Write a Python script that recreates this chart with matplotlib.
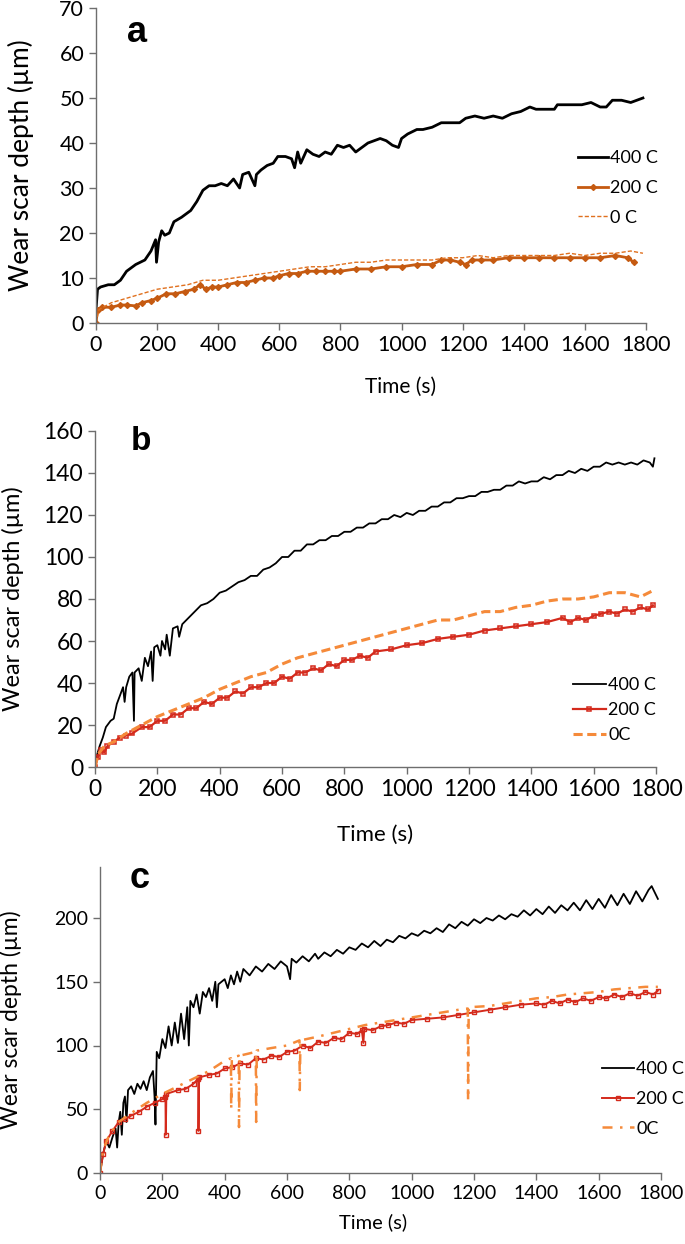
import matplotlib
matplotlib.use("Agg")
import matplotlib.pyplot as plt

plt.rcParams['font.family'] = ['Lato', 'DejaVu Sans']

# ---------------- panel a ----------------
a_400_t = [0, 5, 15, 40, 60, 80, 100, 130, 160, 180, 195, 198, 205, 215, 225, 240, 255, 280, 310, 330,
           350, 370, 390, 410, 430, 450, 470, 480, 500, 520, 525, 540, 560, 580, 595, 620, 640, 650, 660, 670,
           690, 710, 730, 750, 770, 790, 810, 830, 850, 870, 890, 910, 930, 950, 970, 990, 1000, 1020, 1050, 1070,
           1100, 1130, 1160, 1190, 1210, 1240, 1270, 1300, 1330, 1360, 1390, 1420, 1440, 1470, 1500, 1510, 1530, 1560, 1590, 1620,
           1650, 1670, 1690, 1720, 1750, 1770, 1790]
a_400_y = [3, 7.5, 8, 8.5, 8.5, 9.5, 11.5, 13, 14, 16, 18.5, 13.5, 18, 20.5, 19.5, 20, 22.5, 23.5, 25, 27,
           29.5, 30.5, 30.5, 31, 30.5, 32, 30, 33, 33.5, 30.5, 33, 34, 35, 35.5, 37, 37, 36.5, 34.5, 38, 35.5,
           38.5, 37.5, 37, 38, 37.5, 39.5, 39, 39.5, 38, 39, 40, 40.5, 41, 40.5, 39.5, 39, 41, 42, 43, 43,
           43.5, 44.5, 44.5, 44.5, 45.5, 46, 45.5, 46, 45.5, 46.5, 47, 48, 47.5, 47.5, 47.5, 48.5, 48.5, 48.5, 48.5, 49,
           48, 48, 49.5, 49.5, 49, 49.5, 50]

a_200_t = [0, 5, 20, 50, 80, 100, 130, 150, 180, 200, 230, 260, 290, 320, 340, 360, 380, 400, 430, 460,
           490, 520, 550, 580, 600, 630, 660, 690, 720, 750, 780, 800, 850, 900, 950, 1000, 1050, 1100, 1130, 1160,
           1190, 1210, 1230, 1260, 1300, 1350, 1400, 1450, 1500, 1550, 1600, 1650, 1700, 1740, 1760]
a_200_y = [0, 3, 3.5, 3.5, 4, 4, 3.8, 4.5, 5, 5.5, 6.5, 6.5, 7, 7.5, 8.5, 7.5, 8, 8, 8.5, 9,
           9, 9.5, 10, 10, 10.5, 11, 11, 11.5, 11.5, 11.5, 11.5, 11.5, 12, 12, 12.5, 12.5, 13, 13, 14, 14,
           13.5, 13, 14, 14, 14, 14.5, 14.5, 14.5, 14.5, 14.5, 14.5, 14.5, 15, 14.5, 13.5]

a_0_t = [0, 10, 50, 100, 150, 200, 250, 300, 350, 400, 450, 500, 550, 600, 650, 700, 750, 800, 850, 900,
         950, 1000, 1050, 1100, 1150, 1200, 1250, 1300, 1350, 1400, 1450, 1500, 1550, 1600, 1650, 1700, 1750, 1790]
a_0_y = [0, 3, 4.5, 5.5, 6.5, 7.5, 8, 8.5, 9.5, 9.5, 10, 10.5, 11, 11.5, 12, 12.5, 12.5, 13, 13.5, 13.5,
         14, 14, 14, 14, 14.5, 14.5, 15, 14.5, 15, 15, 15, 15, 15.5, 15, 15.5, 15.5, 16, 15.5]

# ---------------- panel b ----------------
b_400_t = [0, 5, 15, 25, 35, 50, 60, 70, 80, 90, 95, 100, 110, 120, 125, 127, 140, 150, 160, 170,
           180, 185, 190, 200, 210, 215, 225, 230, 240, 250, 265, 270, 280, 300, 320, 340, 360, 380, 400, 420,
           440, 460, 480, 500, 520, 540, 560, 580, 600, 620, 640, 660, 680, 700, 720, 740, 760, 780, 800, 820,
           840, 860, 880, 900, 920, 940, 960, 980, 1000, 1020, 1040, 1060, 1080, 1100, 1120, 1140, 1160, 1180, 1200, 1220,
           1240, 1260, 1280, 1300, 1320, 1340, 1360, 1380, 1400, 1420, 1440, 1460, 1480, 1500, 1520, 1540, 1560, 1580, 1600, 1620,
           1640, 1660, 1680, 1700, 1720, 1740, 1760, 1780, 1790, 1795]
b_400_y = [0, 5, 10, 14, 19, 22, 23, 30, 34, 38, 31, 38, 43, 45, 22, 45, 47, 41, 52, 48,
           55, 41, 57, 58, 53, 60, 56, 63, 53, 66, 67, 62, 68, 71, 74, 77, 78, 80, 83, 84,
           86, 88, 89, 91, 91, 94, 95, 97, 100, 100, 103, 103, 106, 106, 108, 108, 110, 110, 112, 112,
           114, 114, 116, 116, 118, 118, 120, 119, 121, 120, 122, 122, 124, 124, 126, 126, 128, 128, 129, 129,
           131, 131, 132, 132, 134, 134, 136, 135, 136, 136, 138, 137, 139, 139, 141, 140, 142, 141, 143, 143,
           145, 144, 145, 144, 145, 144, 146, 145, 143, 147]

b_200_t = [0, 10, 20, 30, 40, 60, 80, 100, 120, 150, 175, 200, 225, 250, 275, 300, 325, 350, 375, 400,
           425, 450, 475, 500, 525, 550, 575, 600, 625, 650, 675, 700, 725, 750, 775, 800, 825, 850, 875, 900,
           950, 1000, 1050, 1100, 1150, 1200, 1250, 1300, 1350, 1400, 1450, 1500, 1525, 1550, 1575, 1600, 1625, 1650, 1675, 1700,
           1725, 1750, 1775, 1790]
b_200_y = [0, 5, 8, 7, 10, 12, 14, 15, 16, 19, 19, 22, 22, 25, 25, 28, 28, 31, 30, 33,
           33, 36, 35, 38, 38, 40, 40, 43, 42, 45, 45, 47, 46, 49, 48, 51, 51, 53, 52, 55,
           56, 58, 59, 61, 62, 63, 65, 66, 67, 68, 69, 71, 69, 71, 70, 72, 73, 74, 73, 75,
           74, 76, 75, 77]

b_0_t = [0, 10, 30, 60, 100, 150, 200, 250, 300, 350, 400, 450, 500, 550, 600, 650, 700, 750, 800, 850,
         900, 950, 1000, 1050, 1100, 1150, 1200, 1250, 1300, 1350, 1400, 1450, 1500, 1550, 1600, 1650, 1700, 1750, 1790]
b_0_y = [0, 6, 10, 12, 16, 20, 24, 27, 30, 33, 37, 40, 43, 45, 49, 52, 54, 56, 58, 60,
         62, 64, 66, 68, 70, 70, 72, 74, 74, 76, 77, 79, 80, 80, 81, 83, 83, 81, 84]

# ---------------- panel c ----------------
c_400_t = [0, 10, 20, 30, 40, 50, 55, 60, 65, 70, 75, 80, 85, 90, 100, 110, 120, 130, 140, 150,
           160, 170, 175, 178, 182, 190, 200, 210, 220, 230, 240, 250, 260, 270, 280, 285, 290, 300, 310, 320,
           330, 340, 350, 360, 370, 375, 380, 400, 410, 420, 430, 440, 450, 460, 480, 500, 520, 540, 560, 580,
           600, 610, 615, 630, 650, 670, 690, 700, 720, 740, 760, 780, 800, 820, 840, 860, 880, 900, 920, 940,
           960, 980, 1000, 1020, 1040, 1060, 1080, 1100, 1120, 1140, 1160, 1180, 1200, 1220, 1240, 1260, 1280, 1300, 1320, 1340,
           1360, 1380, 1400, 1420, 1440, 1460, 1480, 1500, 1520, 1540, 1560, 1580, 1600, 1620, 1640, 1660, 1680, 1700, 1720, 1740,
           1760, 1770, 1790]
c_400_y = [0, 15, 25, 20, 28, 35, 20, 40, 48, 30, 55, 60, 40, 65, 68, 62, 70, 66, 72, 65,
           75, 80, 60, 38, 95, 90, 105, 98, 115, 100, 118, 102, 125, 105, 130, 100, 135, 130, 140, 125,
           142, 138, 145, 135, 150, 130, 148, 152, 145, 155, 148, 158, 150, 160, 155, 162, 158, 164, 160, 166,
           162, 152, 168, 165, 170, 166, 172, 168, 173, 170, 175, 172, 177, 175, 180, 177, 182, 178, 183, 181,
           186, 184, 188, 186, 190, 188, 192, 189, 195, 192, 197, 194, 199, 196, 200, 198, 202, 199, 203, 201,
           206, 202, 207, 203, 209, 204, 210, 206, 212, 206, 214, 207, 215, 208, 218, 210, 219, 211, 221, 213,
           222, 225, 215]

c_200_t = [0, 10, 20, 40, 60, 80, 100, 125, 150, 175, 200, 210, 211, 213, 250, 275, 300, 315, 316, 318,
           350, 375, 400, 425, 450, 475, 500, 525, 550, 575, 600, 625, 650, 675, 700, 725, 750, 775, 800, 825,
           840, 845, 848, 875, 900, 925, 950, 975, 1000, 1050, 1100, 1150, 1200, 1250, 1300, 1350, 1400, 1425, 1450, 1475,
           1500, 1525, 1550, 1575, 1600, 1625, 1650, 1675, 1700, 1725, 1750, 1775, 1790]
c_200_y = [0, 15, 25, 33, 40, 42, 45, 48, 52, 55, 58, 60, 30, 62, 65, 66, 70, 74, 33, 75,
           77, 78, 82, 83, 86, 85, 90, 89, 92, 91, 95, 96, 100, 98, 103, 102, 106, 105, 110, 109,
           112, 102, 113, 112, 115, 116, 118, 117, 120, 121, 122, 124, 126, 128, 130, 132, 133, 132, 135, 133,
           136, 134, 137, 135, 138, 137, 140, 138, 141, 139, 142, 140, 143]

c_0_t = [0, 10, 30, 60, 100, 150, 200, 250, 300, 350, 400, 420, 421, 423, 445, 446, 448, 500, 501, 503,
         550, 600, 640, 641, 643, 700, 750, 800, 850, 900, 950, 1000, 1050, 1100, 1150, 1180, 1181, 1183, 1250, 1300,
         1350, 1400, 1450, 1500, 1550, 1600, 1650, 1700, 1750, 1790]
c_0_y = [0, 18, 30, 40, 47, 55, 62, 68, 74, 80, 88, 90, 50, 90, 92, 36, 92, 95, 40, 96,
         98, 100, 104, 65, 104, 107, 110, 113, 116, 118, 120, 122, 124, 126, 128, 129, 57, 130, 131, 133,
         135, 137, 138, 140, 141, 142, 144, 145, 146, 146]

x_ticks = list(range(0, 1801, 200))
ylabel = "Wear scar depth (\u00b5m)"

fig = plt.figure(figsize=(6.85, 12.44), dpi=100)
W, H = 685, 1244


def make_ax(left, right, top, bottom):
    ax = fig.add_axes([left / W, 1 - bottom / H, (right - left) / W, (bottom - top) / H])
    for s in ['top', 'right']:
        ax.spines[s].set_visible(False)
    for s in ['left', 'bottom']:
        ax.spines[s].set_color('#6e6e6e')
        ax.spines[s].set_linewidth(1.0)
    ax.tick_params(direction='out', length=5, width=1, color='#6e6e6e')
    ax.set_xlim(0, 1800)
    ax.set_xticks(x_ticks)
    return ax


def legend(ax, x, y, fs, hl, ls):
    ax.legend(loc='center left', bbox_to_anchor=(x / W, 1 - y / H), bbox_transform=fig.transFigure,
              frameon=False, fontsize=fs, handlelength=hl, handletextpad=0.15, labelspacing=ls,
              borderpad=0, borderaxespad=0)


def letter(s, x, y, fs):
    fig.text(x / W, 1 - y / H, s, fontsize=fs, fontweight='bold', family='Liberation Sans',
             ha='center', va='center')


# panel a
ax = make_ax(96, 646, 8, 323)
ax.plot(a_400_t, a_400_y, color='black', lw=2.0, label='400 C')
ax.plot(a_200_t, a_200_y, color='#c55a11', lw=2.0, marker='D', ms=3, label='200 C')
ax.plot(a_0_t, a_0_y, color='#e0701e', lw=1.0, ls=(0, (3, 1.5)), label='0 C')
ax.set_ylim(0, 70)
ax.set_yticks(range(0, 71, 10))
ax.tick_params(labelsize=15.5)
ax.set_ylabel(ylabel, fontsize=19, va='center')
ax.yaxis.set_label_coords(-0.136, 0.5)
ax.set_xlabel('Time (s)', fontsize=15, va='center')
ax.xaxis.set_label_coords(0.553, -0.203)
legend(ax, 578, 188, 13, 1.65, 0.75)
letter('a', 137, 32, 26)

# panel b
ax = make_ax(95, 656, 431, 767)
ax.plot(b_400_t, b_400_y, color='black', lw=1.3, label='400 C')
ax.plot(b_200_t, b_200_y, color='#d42a1c', lw=1.6, marker='s', ms=2.5, mfc='none', mew=1.1, label='200 C')
ax.plot(b_0_t, b_0_y, color='#f58a3a', lw=2.2, ls=(0, (3, 1.5)), label='0C')
ax.set_ylim(0, 160)
ax.set_yticks(range(0, 161, 20))
ax.tick_params(labelsize=16.5)
ax.set_ylabel(ylabel, fontsize=17, va='center')
ax.yaxis.set_label_coords(-0.146, 0.5)
ax.set_xlabel('Time (s)', fontsize=16, va='center')
ax.xaxis.set_label_coords(0.50, -0.202)
legend(ax, 573, 710, 13, 1.8, 0.5)
letter('b', 141, 442, 24)

# panel c
ax = make_ax(100, 661, 867, 1173)
ax.plot(c_400_t, c_400_y, color='black', lw=1.3, label='400 C')
ax.plot(c_200_t, c_200_y, color='#d42a1c', lw=1.4, marker='s', ms=2.5, mfc='none', mew=1.0, label='200 C')
ax.plot(c_0_t, c_0_y, color='#f58a3a', lw=1.8, ls=(0, (4, 3, 1, 3)), label='0C')
ax.set_ylim(0, 240)
ax.set_yticks(range(0, 201, 50))
ax.tick_params(labelsize=14)
ax.set_ylabel(ylabel, fontsize=16.5, va='center')
ax.yaxis.set_label_coords(-0.159, 0.5)
ax.set_xlabel('Time (s)', fontsize=14.5, va='center')
ax.xaxis.set_label_coords(0.487, -0.16)
legend(ax, 602, 1099, 13, 1.75, 0.75)
letter('c', 140, 878, 26)

fig.savefig('out.png', dpi=100)
